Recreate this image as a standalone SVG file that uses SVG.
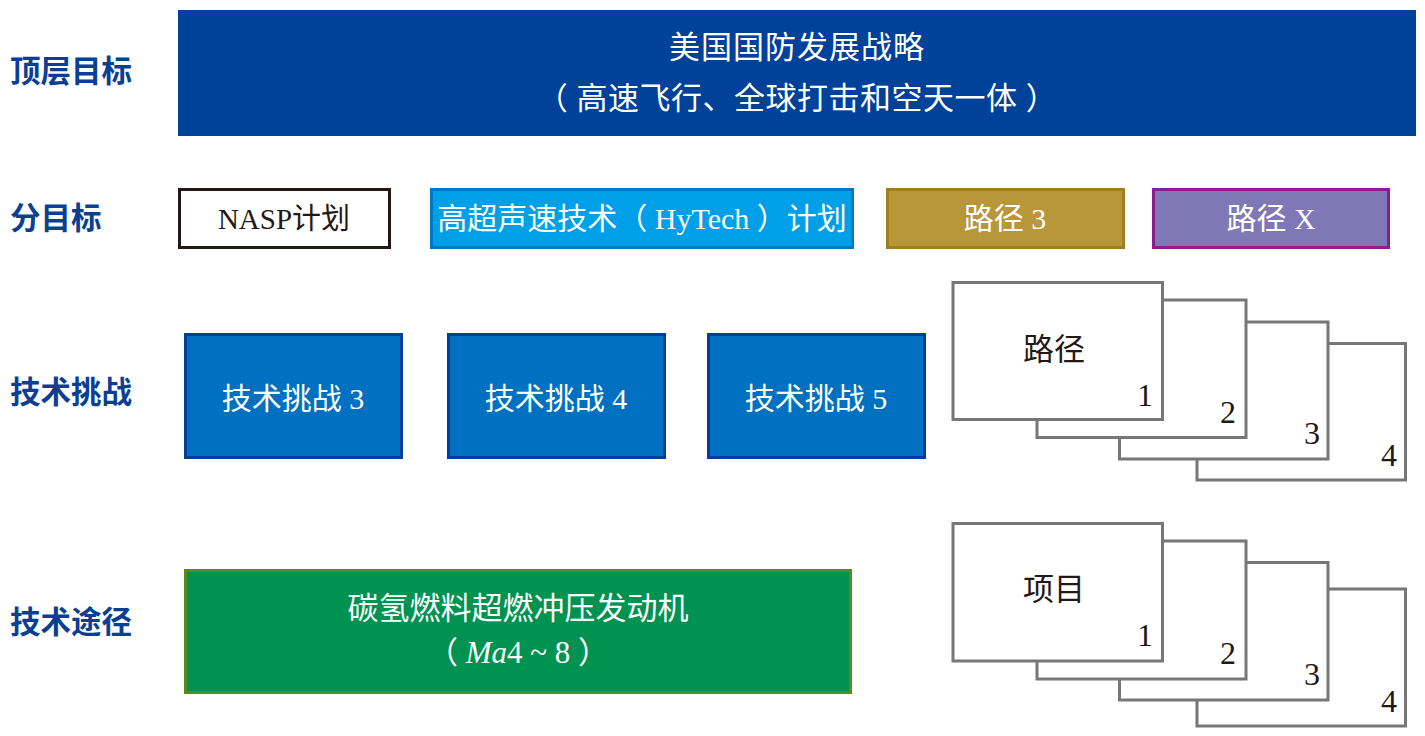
<svg xmlns="http://www.w3.org/2000/svg" width="1425" height="736" viewBox="0 0 1425 736">
<style>
text{font-family:"Liberation Serif","Noto Sans CJK SC",serif;text-anchor:middle}
.lbl{font-family:"Noto Sans CJK SC","Liberation Sans",sans-serif;font-weight:bold;font-size:30.5px;fill:#0B3F93;text-anchor:start}
.w{fill:#fff}
.k{fill:#231815}
.card{fill:#fff;stroke:#777;stroke-width:3}
.num{font-size:32px;fill:#231815}
.tc{fill:#0071C1;stroke:#003E9A;stroke-width:3}
</style>
<rect width="1425" height="736" fill="#fff"/>
<g id="labels">
<text class="lbl" x="10" y="82">顶层目标</text>
<text class="lbl" x="10" y="229">分目标</text>
<text class="lbl" x="10" y="403">技术挑战</text>
<text class="lbl" x="10" y="633">技术途径</text>
</g>
<g id="top">
<rect x="178" y="10" width="1238" height="126" fill="#00419A"/>
<text class="w" x="797" y="58" font-size="31" letter-spacing="1">美国国防发展战略</text>
<text class="w" x="797" y="109" font-size="31" letter-spacing="0.5">（ 高速飞行、全球打击和空天一体 ）</text>
</g>
<g id="nasp">
<rect x="179.5" y="189.5" width="210" height="58" fill="#fff" stroke="#231815" stroke-width="3"/>
<text class="k" x="284" y="229" font-size="29">NASP计划</text>
</g>
<g id="hytech">
<rect x="431.5" y="189.5" width="421" height="58" fill="#00A0E9" stroke="#0078C8" stroke-width="3"/>
<text class="w" x="642" y="229" font-size="30">高超声速技术（ HyTech ）计划</text>
</g>
<g id="path3">
<rect x="887.5" y="189.5" width="236" height="58" fill="#B8963A" stroke="#A07E1E" stroke-width="3"/>
<text class="w" x="1005" y="229" font-size="30">路径 3</text>
</g>
<g id="pathX">
<rect x="1153.5" y="189.5" width="235" height="58" fill="#8078B6" stroke="#8B1E8C" stroke-width="3"/>
<text class="w" x="1271" y="229" font-size="30">路径 X</text>
</g>
<g id="tc3">
<rect class="tc" x="185.5" y="334.5" width="216" height="123"/>
<text class="w" x="293" y="409" font-size="30">技术挑战 3</text>
</g>
<g id="tc4">
<rect class="tc" x="448.5" y="334.5" width="216" height="123"/>
<text class="w" x="556" y="409" font-size="30">技术挑战 4</text>
</g>
<g id="tc5">
<rect class="tc" x="708.5" y="334.5" width="216" height="123"/>
<text class="w" x="816" y="409" font-size="30">技术挑战 5</text>
</g>
<g id="paths-stack">
<rect class="card" x="1197" y="343.5" width="208.5" height="136.5"/>
<text class="num" x="1389" y="466">4</text>
<rect class="card" x="1119.5" y="322" width="208.5" height="137"/>
<text class="num" x="1312" y="444">3</text>
<rect class="card" x="1037" y="300" width="209" height="137.5"/>
<text class="num" x="1228" y="423">2</text>
<rect class="card" x="953" y="282.5" width="209.5" height="137"/>
<text class="num" x="1145" y="406">1</text>
<text class="k" x="1054" y="360" font-size="31">路径</text>
</g>
<g id="projects-stack">
<rect class="card" x="1197" y="589" width="208.5" height="137"/>
<text class="num" x="1389" y="712">4</text>
<rect class="card" x="1119.5" y="562.5" width="208.5" height="137.5"/>
<text class="num" x="1312" y="685">3</text>
<rect class="card" x="1037" y="541" width="209" height="138"/>
<text class="num" x="1228" y="664">2</text>
<rect class="card" x="953" y="523.5" width="209.5" height="137.5"/>
<text class="num" x="1145" y="646">1</text>
<text class="k" x="1054" y="600" font-size="31">项目</text>
</g>
<g id="engine">
<rect x="185.5" y="570.5" width="665" height="122" fill="#009250" stroke="#5A8A1E" stroke-width="3"/>
<text class="w" x="518" y="619" font-size="31">碳氢燃料超燃冲压发动机</text>
<text class="w" x="518" y="663" font-size="31">（ <tspan font-style="italic">Ma</tspan>4  ~  8 ）</text>
</g>
<g id="connectors"/>
</svg>
